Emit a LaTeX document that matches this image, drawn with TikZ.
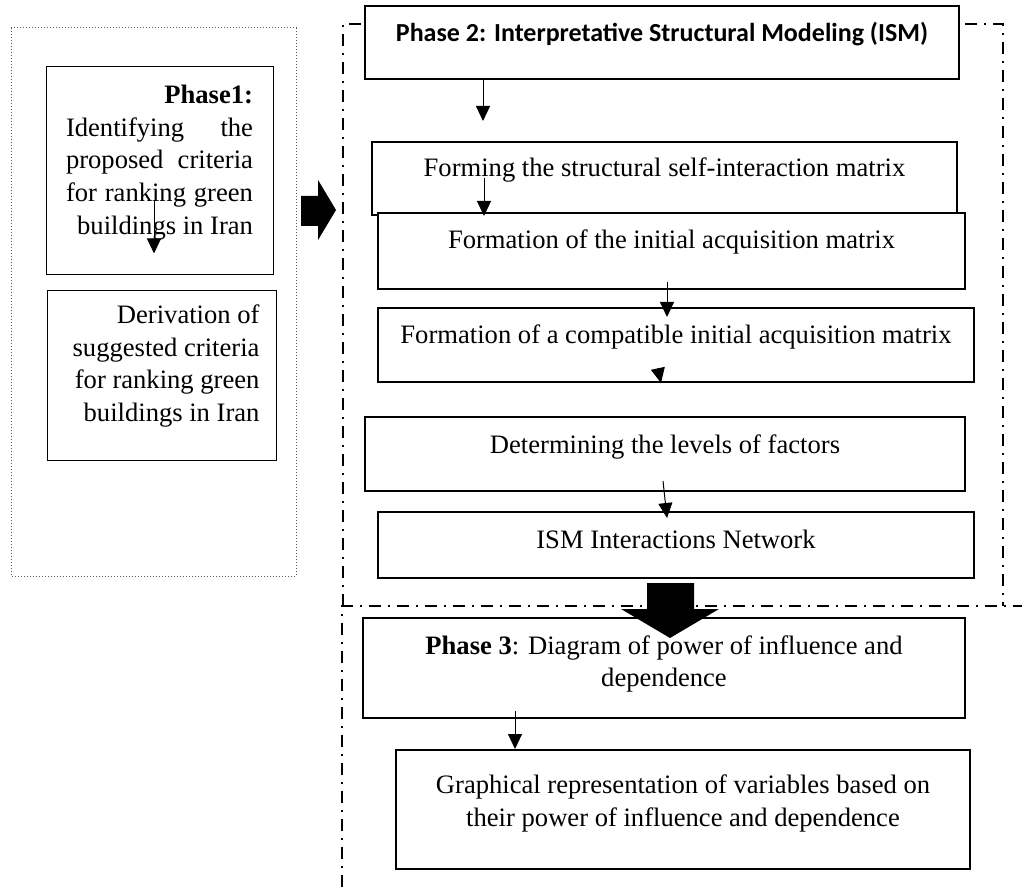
\documentclass[tikz,border=0pt]{standalone}
\usepackage{fontspec}
\setmainfont{Liberation Serif}
\newfontfamily\calibri{Carlito}
\usetikzlibrary{arrows.meta}
\newcommand{\dn}[1]{\rule[-#1]{0pt}{#1}}

\begin{document}
\begin{tikzpicture}[x=0.5pt,y=-0.5pt,
	every node/.style={font=\fontsize{13.3}{16.3}\selectfont},
	box/.style={draw,line width=1pt,fill=white,inner sep=0pt,align=center},
	thinbox/.style={draw,line width=0.5pt,fill=white,inner sep=0pt,text width=93.5pt,align=flush right},
	arr/.style={line width=0.5pt,-{Triangle[width=7pt,length=7.5pt]}},
	dashframe/.style={line width=1pt,dash pattern=on 6pt off 3.5pt on 1pt off 3.5pt}]
	\useasboundingbox (0,0) rectangle (1022,887);
	\draw[densely dotted,line width=0.5pt,gray!70!black] (11,28) rectangle (296,576);
	\draw[dashframe] (343,606) -- (343,24) -- (1003,24) -- (1003,606);
	\draw[dashframe] (342,887) -- (342,606) -- (1022,606);
	\node[thinbox,minimum width=113.5pt,minimum height=104pt] (ph1) at (159.5,171) {\textbf{Phase1:}\\Identifying\hfill the\\proposed\hfill criteria\\for\hfill ranking\hfill green\\buildings in Iran\dn{11.4pt}};
	\node[thinbox,text width=98pt,minimum width=114.5pt,minimum height=84.5pt] (der) at (161.5,375.5) {Derivation of\\suggested criteria\\for ranking green\\buildings in Iran\dn{12.4pt}};
	\node[box,minimum width=297pt,minimum height=36.5pt] (ph2) at (662,42.5) {\calibri\bfseries\fontsize{13}{16}\selectfont Phase 2: Interpretative Structural Modeling (ISM)\dn{10.7pt}};
	\node[box,minimum width=292.5pt,minimum height=36.5pt] (form) at (664.5,178.5) {Forming the structural self-interaction matrix\dn{11.4pt}};
	\node[box,minimum width=293.5pt,minimum height=38pt] (init) at (671.5,251) {Formation of the initial acquisition matrix\dn{11.9pt}};
	\node[box,minimum width=298pt,minimum height=37pt] (comp) at (676,345) {Formation of a compatible initial acquisition matrix\dn{10.9pt}};
	\node[box,minimum width=300pt,minimum height=37pt] (lev) at (665,454) {Determining the levels of factors\dn{9.4pt}};
	\node[box,minimum width=298pt,minimum height=33pt] (net) at (676,545) {ISM Interactions Network\dn{6.2pt}};
	\node[box,minimum width=301pt,minimum height=50pt] (ph3) at (664,668) {\textbf{Phase 3}: Diagram of power of influence and\\dependence\dn{6.9pt}};
	\node[box,minimum width=287pt,minimum height=59.5pt] (graph) at (683,809.5) {Graphical representation of variables based on\\their power of influence and dependence\dn{8.9pt}};
	\draw[arr] ([xshift=-2.75pt,yshift=-14.5pt]ph1.center) -- ([xshift=-2.75pt,yshift=11pt]ph1.south);
	\draw[arr] ([xshift=-89.5pt]ph2.south) -- ([xshift=-90.75pt,yshift=10pt]form.north);
	\draw[arr] ([xshift=-90.25pt]form.center) -- ([xshift=-93.75pt,yshift=-2pt]init.north);
	\draw[arr] ([xshift=-2.25pt,yshift=4pt]init.south) -- ([xshift=-4.5pt,yshift=-5pt]comp.north);
	\draw[arr] ([xshift=-9pt,yshift=7pt]comp.south) -- ([xshift=-7.5pt]comp.south);
	\draw[arr] ([xshift=-1pt,yshift=5.5pt]lev.south) -- ([xshift=-4.5pt,yshift=-3.5pt]net.north);
	\draw[arr] ([xshift=-74.5pt,yshift=4pt]ph3.south) -- ([xshift=-84pt]graph.north);
	\fill (301,196) -- (318,196) -- (318,180) -- (336,210) -- (318,240) -- (318,226) -- (301,226) -- cycle;
	\fill (647,583) -- (694,583) -- (694,609) -- (719,609) -- (670,638) -- (621,609) -- (647,609) -- cycle;
\end{tikzpicture}
\end{document}
